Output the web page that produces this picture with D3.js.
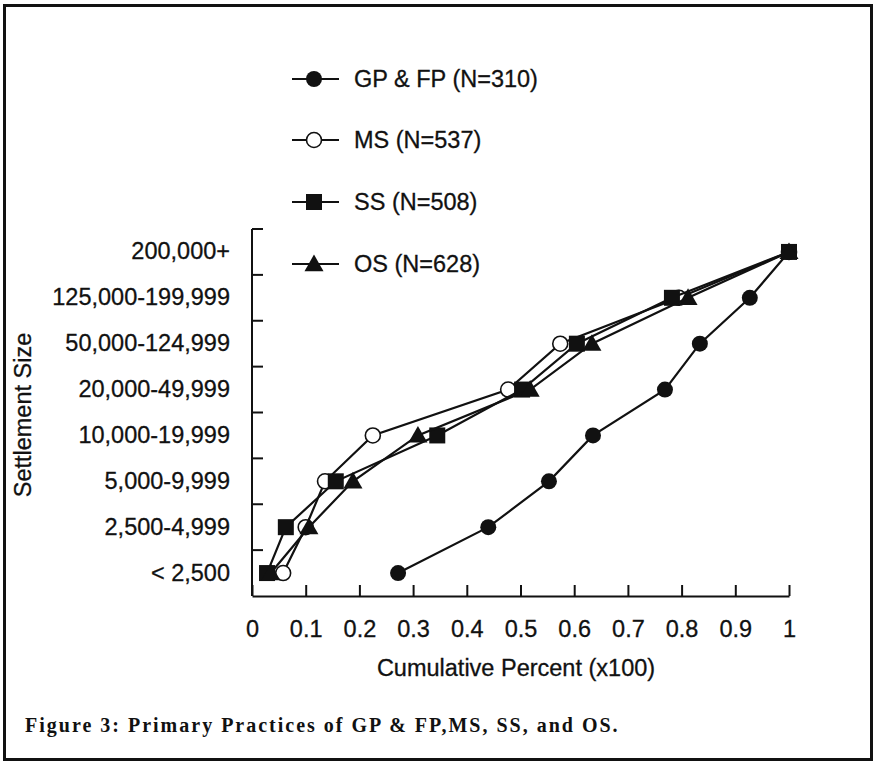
<!DOCTYPE html>
<html>
<head>
<meta charset="utf-8">
<script src="https://cdn.jsdelivr.net/npm/d3@7"></script>
<style>
  html, body { margin: 0; padding: 0; background: #fff; }
  svg { display: block; }
  .sans { font-family: "Liberation Sans", Arial, Helvetica, sans-serif; fill: #111; stroke: #111; stroke-width: 0.3px; }
  .caption { font-family: "Liberation Serif", "Times New Roman", serif; font-weight: bold; fill: #111; }
</style>
</head>
<body>
<svg id="chart" width="875" height="762"></svg>
<script>
// Settlement size categories, smallest first
const categories = ["< 2,500", "2,500-4,999", "5,000-9,999", "10,000-19,999",
                    "20,000-49,999", "50,000-124,999", "125,000-199,999", "200,000+"];

// Cumulative share (x100) of practices by settlement size
const gpfp = [0.272, 0.44, 0.553, 0.635, 0.769, 0.834, 0.927, 1];
const ms   = [0.058, 0.10, 0.136, 0.225, 0.477, 0.574, 0.795, 1];
const ss   = [0.028, 0.063, 0.156, 0.345, 0.503, 0.605, 0.782, 1];
const os   = [0.035, 0.106, 0.188, 0.309, 0.518, 0.633, 0.812, 1];

const seriesNames = ["GP & FP (N=310)", "MS (N=537)", "SS (N=508)", "OS (N=628)"];
const xTicks = [0, 0.1, 0.2, 0.3, 0.4, 0.5, 0.6, 0.7, 0.8, 0.9, 1];

const series = [
  { name: seriesNames[0], values: gpfp, marker: "dot" },
  { name: seriesNames[1], values: ms,   marker: "ring" },
  { name: seriesNames[2], values: ss,   marker: "square" },
  { name: seriesNames[3], values: os,   marker: "triangle" }
];

const svg = d3.select("#chart");
const ink = "#111";
const fs = 23.5;

// Figure frame
svg.append("rect")
  .attr("x", 4.5).attr("y", 5.5).attr("width", 867).attr("height", 754)
  .attr("fill", "none").attr("stroke", ink).attr("stroke-width", 3);

const plot = { left: 252, right: 789, top: 229, bottom: 596 };

const x = d3.scaleLinear().domain([0, 1]).range([plot.left, plot.right]);
const y = d3.scaleBand().domain(categories.slice().reverse())
  .range([plot.top, plot.bottom]).padding(0);
const yc = c => y(c) + y.bandwidth() / 2;

// X axis: ticks point up into the plot
const xAxis = d3.axisBottom(x)
  .tickValues(xTicks)
  .tickSizeInner(-11).tickSizeOuter(0).tickPadding(24)
  .tickFormat(d => d === 0 ? "0" : d === 1 ? "1" : d.toFixed(1));
const gx = svg.append("g").attr("transform", `translate(0,${plot.bottom})`).call(xAxis);
gx.select(".domain").attr("stroke", ink).attr("stroke-width", 2);
gx.selectAll(".tick line").attr("stroke", ink).attr("stroke-width", 2);
gx.selectAll(".tick text").attr("class", "sans").attr("font-size", fs);

// Y axis: category labels at band centres, ticks at band edges
const yAxis = d3.axisLeft(y).tickSize(0).tickPadding(22);
const gy = svg.append("g").attr("transform", `translate(${plot.left},0)`).call(yAxis);
gy.select(".domain").remove();
gy.selectAll(".tick text").attr("class", "sans").attr("font-size", fs);

svg.append("line")
  .attr("x1", plot.left).attr("x2", plot.left)
  .attr("y1", plot.top).attr("y2", plot.bottom)
  .attr("stroke", ink).attr("stroke-width", 2);
svg.append("g").selectAll("line")
  .data(categories.slice().reverse())
  .join("line")
  .attr("x1", plot.left).attr("x2", plot.left + 11)
  .attr("y1", d => y(d)).attr("y2", d => y(d))
  .attr("stroke", ink).attr("stroke-width", 2);

// Axis titles
svg.append("text").attr("class", "sans")
  .attr("x", 516).attr("y", 676)
  .attr("text-anchor", "middle").attr("font-size", fs)
  .text("Cumulative Percent (x100)");
svg.append("text").attr("class", "sans")
  .attr("transform", "translate(31,415) rotate(-90)")
  .attr("text-anchor", "middle").attr("font-size", fs)
  .text("Settlement Size");

// Marker drawing
function drawMarker(g, type, cx, cy) {
  if (type === "dot") {
    g.append("circle").attr("cx", cx).attr("cy", cy).attr("r", 8).attr("fill", ink);
  } else if (type === "ring") {
    g.append("circle").attr("cx", cx).attr("cy", cy).attr("r", 7.5)
      .attr("fill", "#fff").attr("stroke", ink).attr("stroke-width", 1.6);
  } else if (type === "square") {
    g.append("rect").attr("x", cx - 8).attr("y", cy - 8)
      .attr("width", 16).attr("height", 16).attr("fill", ink);
  } else {
    const s = 9.5;
    g.append("path")
      .attr("d", `M${cx},${cy - s} L${cx + s},${cy + s * 0.75} L${cx - s},${cy + s * 0.75} Z`)
      .attr("fill", ink);
  }
}

const line = d3.line()
  .x(d => x(d.v))
  .y(d => yc(d.c));

series.forEach(s => {
  const pts = s.values.map((v, i) => ({ v, c: categories[i] }));
  const g = svg.append("g");
  g.append("path").datum(pts)
    .attr("d", line).attr("fill", "none")
    .attr("stroke", ink).attr("stroke-width", 2.2);
  pts.forEach(p => drawMarker(g, s.marker, x(p.v), yc(p.c)));
});

// Legend
const legendRows = [79, 140, 202, 264];
series.forEach((s, i) => {
  const g = svg.append("g");
  const ly = legendRows[i];
  g.append("line").attr("x1", 292).attr("x2", 339).attr("y1", ly).attr("y2", ly)
    .attr("stroke", ink).attr("stroke-width", 2);
  drawMarker(g, s.marker, 314, ly);
  g.append("text").attr("class", "sans")
    .attr("x", 354).attr("y", ly + 8).attr("font-size", fs).text(s.name);
});

// Caption
svg.append("text").attr("class", "caption")
  .attr("x", 25).attr("y", 732)
  .attr("font-size", 20)
  .attr("letter-spacing", 2)
  .text("Figure 3: Primary Practices of GP & FP,MS, SS, and OS.");
</script>
</body>
</html>
